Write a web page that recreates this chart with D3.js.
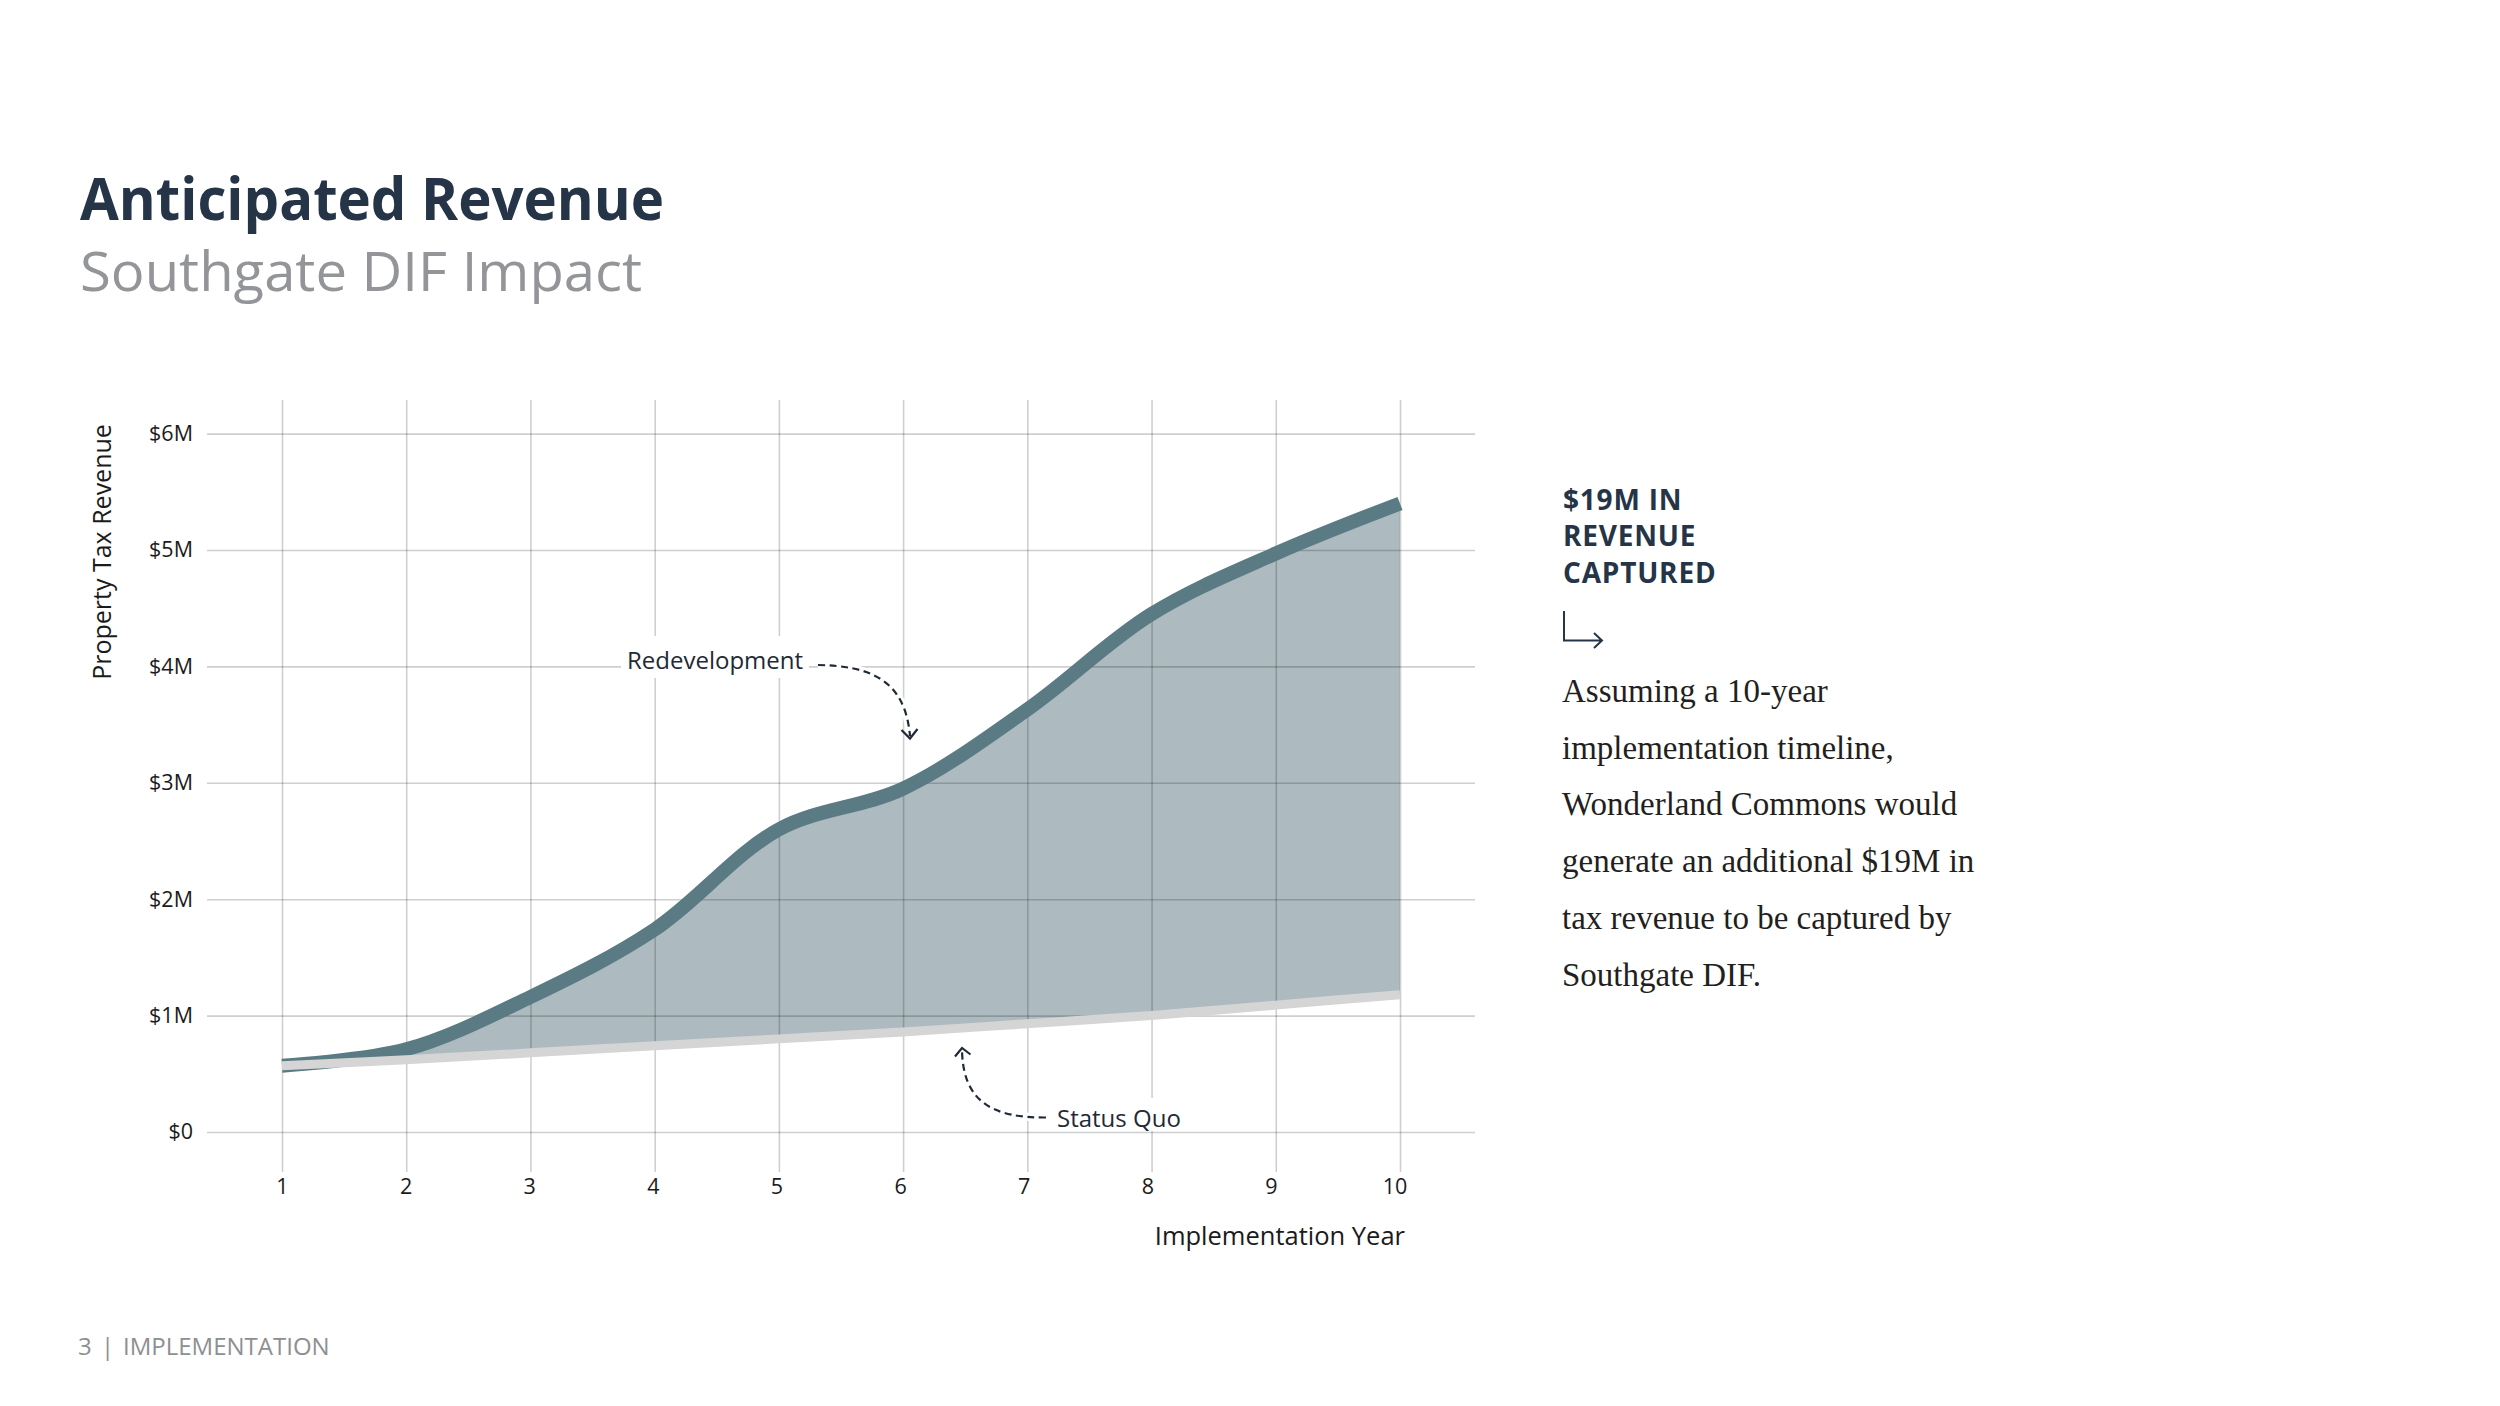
<!DOCTYPE html>
<html>
<head>
<meta charset="utf-8">
<script src="https://cdn.jsdelivr.net/npm/d3@7"></script>
<style>
  html, body { margin: 0; padding: 0; background: #ffffff; }
  svg { display: block; }
</style>
</head>
<body>
<svg id="chart" width="2500" height="1406"></svg>
<script>
// ---------------- data ----------------
const years = [1, 2, 3, 4, 5, 6, 7, 8, 9, 10];
const redevelopment = [0.57, 0.71, 1.16, 1.74, 2.60, 2.95, 3.63, 4.45, 4.97, 5.40]; // $M
const statusQuo     = [0.57, 0.62, 0.68, 0.74, 0.80, 0.86, 0.93, 1.00, 1.09, 1.18]; // $M
const yTicks = [0, 1, 2, 3, 4, 5, 6];
const yTickLabels = ["$0", "$1M", "$2M", "$3M", "$4M", "$5M", "$6M"];
const xTickLabels = ["1", "2", "3", "4", "5", "6", "7", "8", "9", "10"];
const titleText = "Anticipated Revenue";
const subtitleText = "Southgate DIF Impact";
const yAxisTitle = "Property Tax Revenue";
const xAxisTitle = "Implementation Year";
const seriesLabels = ["Redevelopment", "Status Quo"];
const calloutHead = ["$19M IN", "REVENUE", "CAPTURED"];
const calloutBody = [
  "Assuming a 10-year",
  "implementation timeline,",
  "Wonderland Commons would",
  "generate an additional $19M in",
  "tax revenue to be captured by",
  "Southgate DIF."
];
const footerParts = ["3", "|", "IMPLEMENTATION"];

// ---------------- setup ----------------
const svg = d3.select("#chart");
const SANS = "'Open Sans', 'Noto Sans', sans-serif";
const SERIF = "'Liberation Serif', 'DejaVu Serif', serif";
const NAVY = "#253547";
const LINE = "#5a7a84";
const FILL = "#adbbc0";
const SQ = "#d5d5d5";

const x = d3.scaleLinear().domain([1, 10]).range([282, 1400]);
const y = d3.scaleLinear().domain([0, 6]).range([1132, 433.6]);

const data = years.map((yr, i) => ({ yr, r: redevelopment[i], s: statusQuo[i] }));

// ---------------- titles ----------------
svg.append("text")
  .attr("x", 80).attr("y", 220)
  .attr("font-family", SANS).attr("font-weight", 700).attr("font-size", 59)
  .attr("textLength", 584).attr("lengthAdjust", "spacingAndGlyphs")
  .attr("fill", NAVY).text(titleText);

svg.append("text")
  .attr("x", 80).attr("y", 291)
  .attr("font-family", SANS).attr("font-weight", 400).attr("font-size", 55)
  .attr("textLength", 562).attr("lengthAdjust", "spacingAndGlyphs")
  .attr("fill", "#939598").text(subtitleText);

// ---------------- area fill ----------------
const curve = d3.curveCatmullRom.alpha(0.5);
const area = d3.area()
  .x(d => x(d.yr)).y0(d => y(d.s)).y1(d => y(d.r)).curve(curve);
svg.append("path").datum(data)
  .attr("d", area).attr("fill", FILL);

// ---------------- grid / axes ----------------
const gY = svg.append("g")
  .attr("transform", "translate(1475,0)")
  .call(d3.axisLeft(y).tickValues(yTicks)
    .tickFormat((d, i) => yTickLabels[i])
    .tickSize(1268).tickPadding(14));
const gX = svg.append("g")
  .attr("transform", "translate(0,400)")
  .call(d3.axisBottom(x).tickValues(years)
    .tickFormat((d, i) => xTickLabels[i])
    .tickSize(772).tickPadding(7));
[gY, gX].forEach(g => {
  g.select(".domain").remove();
  g.selectAll(".tick line")
    .attr("stroke", "#000").attr("stroke-opacity", 0.19).attr("stroke-width", 1.6);
  g.selectAll(".tick text")
    .attr("font-family", SANS).attr("font-size", 21.5).attr("fill", "#1b1b1b");
});
gX.selectAll(".tick text").attr("dx", (d, i) => -i * 0.6);

// ---------------- lines ----------------
const lineR = d3.line().x(d => x(d.yr)).y(d => y(d.r)).curve(curve);
const lineS = d3.line().x(d => x(d.yr)).y(d => y(d.s)).curve(curve);
svg.append("path").datum(data)
  .attr("d", lineR).attr("fill", "none")
  .attr("stroke", LINE).attr("stroke-width", 14).attr("stroke-linecap", "butt");
svg.append("path").datum(data)
  .attr("d", lineS).attr("fill", "none")
  .attr("stroke", SQ).attr("stroke-width", 9).attr("stroke-linecap", "butt");

// ---------------- axis titles ----------------
svg.append("text")
  .attr("transform", "translate(111,552) rotate(-90)")
  .attr("text-anchor", "middle")
  .attr("font-family", SANS).attr("font-size", 25).attr("fill", "#1b1b1b")
  .text(yAxisTitle);
svg.append("text")
  .attr("x", 1405).attr("y", 1245).attr("text-anchor", "end")
  .attr("font-family", SANS).attr("font-size", 25.5).attr("fill", "#1b1b1b")
  .text(xAxisTitle);

// ---------------- annotations ----------------
const ANN = "#1f2a36";
function annotation(labelX, labelY, rect, pathD, head, label) {
  const g = svg.append("g");
  g.append("rect").attr("x", rect[0]).attr("y", rect[1])
    .attr("width", rect[2]).attr("height", rect[3]).attr("fill", "#fff");
  g.append("path").attr("d", pathD).attr("fill", "none")
    .attr("stroke", "#fff").attr("stroke-width", 8);
  g.append("path").attr("d", pathD).attr("fill", "none")
    .attr("stroke", ANN).attr("stroke-width", 2.2).attr("stroke-dasharray", "7,4.5");
  g.append("path").attr("d", head).attr("fill", "none")
    .attr("stroke", ANN).attr("stroke-width", 2.2).attr("stroke-linejoin", "miter");
  g.append("text").attr("x", labelX).attr("y", labelY)
    .attr("font-family", SANS).attr("font-size", 24).attr("fill", ANN)
    .text(label);
}
annotation(627, 669, [621, 636, 188, 42],
  "M818,665 C868,666 905,678 910,736",
  "M901.5,730 L910,738.5 L917.5,729",
  seriesLabels[0]);
annotation(1057, 1127, [1050, 1098, 136, 33],
  "M1046,1117.5 C990,1118 963,1100 962,1050",
  "M955,1056.5 L962,1048 L970.5,1054.5",
  seriesLabels[1]);

// ---------------- callout ----------------
svg.append("g").selectAll("text").data(calloutHead).join("text")
  .attr("x", 1563).attr("y", (d, i) => 510 + i * 36.3)
  .attr("font-family", SANS).attr("font-weight", 700).attr("font-size", 28)
  .attr("letter-spacing", 0.8).attr("fill", NAVY)
  .text(d => d);

svg.append("path")
  .attr("d", "M1564,611 L1564,640.5 L1602,640.5 M1594,633 L1602,640.5 L1594,648")
  .attr("fill", "none").attr("stroke", NAVY).attr("stroke-width", 2);

svg.append("g").selectAll("text").data(calloutBody).join("text")
  .attr("x", 1562).attr("y", (d, i) => 702 + i * 56.7)
  .attr("font-family", SERIF).attr("font-size", 33).attr("fill", "#231f20")
  .text(d => d);

// ---------------- footer ----------------
const footX = [78, 101, 123];
svg.append("g").selectAll("text").data(footerParts).join("text")
  .attr("x", (d, i) => footX[i]).attr("y", 1355)
  .attr("font-family", SANS).attr("font-size", 24).attr("fill", "#8e8f92")
  .text(d => d);
</script>
</body>
</html>
